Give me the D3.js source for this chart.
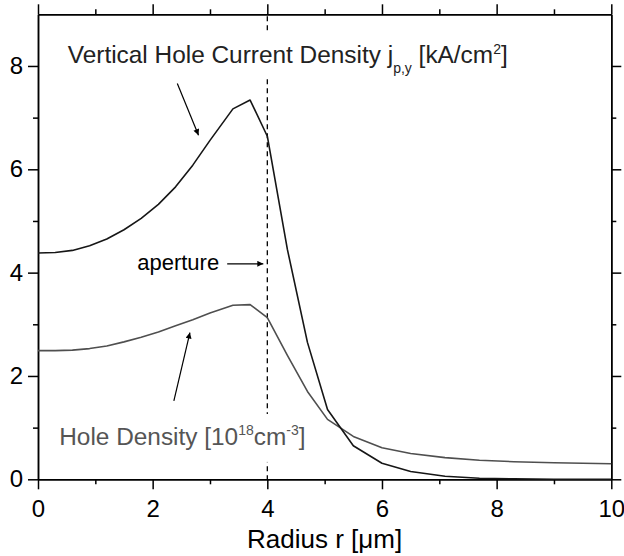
<!DOCTYPE html>
<html>
<head>
<meta charset="utf-8">
<script src="https://cdn.jsdelivr.net/npm/d3@7"></script>
<style>
  html, body { margin: 0; padding: 0; background: #fff; }
  svg { display: block; font-family: "Liberation Sans", Arial, sans-serif; }
</style>
</head>
<body>
<svg id="chart" width="624" height="556"></svg>
<script>
// Radial profiles across the device (r in µm)
const radius = [0, 0.3, 0.6, 0.9, 1.2, 1.5, 1.8, 2.1, 2.4, 2.7, 3.0, 3.4, 3.7, 4.0,
                4.35, 4.7, 5.05, 5.5, 6.0, 6.5, 7.1, 7.7, 8.3, 9.0, 10];
// vertical hole current density j_p,y [kA/cm²]
const currentDensity = [4.38, 4.39, 4.43, 4.52, 4.65, 4.83, 5.05, 5.32, 5.66, 6.08, 6.56, 7.17, 7.34, 6.64,
                        4.45, 2.65, 1.35, 0.65, 0.31, 0.15, 0.06, 0.02, 0.01, 0.0, 0.0];
// hole density [10^18 cm^-3]
const holeDensity = [2.49, 2.49, 2.50, 2.53, 2.58, 2.66, 2.75, 2.85, 2.97, 3.09, 3.22, 3.37, 3.38, 3.13,
                     2.40, 1.70, 1.16, 0.83, 0.61, 0.50, 0.42, 0.37, 0.34, 0.32, 0.30];

const xMajorTicks = [0, 2, 4, 6, 8, 10];
const xMinorTicks = [1, 3, 5, 7, 9];
const yMajorTicks = [0, 2, 4, 6, 8];
const yMinorTicks = [1, 3, 5, 7];
const apertureRadius = 4;

const svg = d3.select("#chart");
const x = d3.scaleLinear().domain([0, 10]).range([38, 611.3]);
const y = d3.scaleLinear().domain([0, 9]).range([479.3, 14.3]);

const axisStroke = 1.5;

// ---- frame with outward ticks on all four sides ----
function styleAxis(g) {
  g.selectAll("path.domain").attr("stroke", "#000").attr("stroke-width", axisStroke);
  g.selectAll(".tick line").attr("stroke", "#000").attr("stroke-width", axisStroke);
  g.selectAll(".tick text").attr("fill", "#000").style("font-size", "24px")
    .style("font-family", "'Liberation Sans', Arial, sans-serif");
}

// bottom
svg.append("g").attr("transform", `translate(0,${y(0)})`)
  .call(d3.axisBottom(x).tickValues(xMajorTicks).tickSize(10).tickSizeOuter(0).tickPadding(11)
        .tickFormat(d3.format("d")))
  .call(styleAxis);
svg.append("g").attr("transform", `translate(0,${y(0)})`)
  .call(d3.axisBottom(x).tickValues(xMinorTicks).tickSize(5).tickSizeOuter(0).tickFormat(""))
  .call(styleAxis);
// top
svg.append("g").attr("transform", `translate(0,${y(9)})`)
  .call(d3.axisTop(x).tickValues(xMajorTicks).tickSize(10).tickSizeOuter(0).tickFormat(""))
  .call(styleAxis);
svg.append("g").attr("transform", `translate(0,${y(9)})`)
  .call(d3.axisTop(x).tickValues(xMinorTicks).tickSize(5).tickSizeOuter(0).tickFormat(""))
  .call(styleAxis);
// left
svg.append("g").attr("transform", `translate(${x(0)},0)`)
  .call(d3.axisLeft(y).tickValues(yMajorTicks).tickSize(10).tickSizeOuter(0).tickPadding(5)
        .tickFormat(d3.format("d")))
  .call(styleAxis);
svg.append("g").attr("transform", `translate(${x(0)},0)`)
  .call(d3.axisLeft(y).tickValues(yMinorTicks).tickSize(5).tickSizeOuter(0).tickFormat(""))
  .call(styleAxis);
// right
svg.append("g").attr("transform", `translate(${x(10)},0)`)
  .call(d3.axisRight(y).tickValues(yMajorTicks).tickSize(10).tickSizeOuter(0).tickFormat(""))
  .call(styleAxis);
svg.append("g").attr("transform", `translate(${x(10)},0)`)
  .call(d3.axisRight(y).tickValues(yMinorTicks).tickSize(5).tickSizeOuter(0).tickFormat(""))
  .call(styleAxis);

// ---- aperture edge ----
svg.append("line")
  .attr("x1", x(apertureRadius)).attr("x2", x(apertureRadius))
  .attr("y1", y(9)).attr("y2", y(0))
  .attr("stroke", "#000").attr("stroke-width", 1.3)
  .attr("stroke-dasharray", "5,4").attr("stroke-dashoffset", -2);

// ---- curves ----
const pts = (vals) => radius.map((r, i) => [r, vals[i]]);
const line = d3.line().x(d => x(d[0])).y(d => y(d[1]));

svg.append("path").datum(pts(holeDensity))
  .attr("d", line).attr("fill", "none")
  .attr("stroke", "#4f4f4f").attr("stroke-width", 1.6).attr("stroke-linejoin", "round");
svg.append("path").datum(pts(currentDensity))
  .attr("d", line).attr("fill", "none")
  .attr("stroke", "#161616").attr("stroke-width", 1.6).attr("stroke-linejoin", "round");

// ---- labels (on a white backing so the dashed line stops at the text) ----
function backedLabel(parts, r, v, color, padTop, padBottom) {
  const g = svg.append("g");
  const t = g.append("text")
    .attr("x", x(r)).attr("y", y(v))
    .attr("fill", color).style("font-size", "24.4px");
  parts.forEach(p => {
    const s = t.append("tspan").text(p.text);
    if (p.size) s.style("font-size", p.size + "px");
    if (p.dy) s.attr("dy", p.dy);
  });
  const bb = t.node().getBBox();
  g.insert("rect", "text")
    .attr("x", bb.x - 2).attr("y", bb.y - padTop)
    .attr("width", bb.width + 4).attr("height", bb.height + padTop + padBottom)
    .attr("fill", "#fff");
  return t;
}

backedLabel([
  { text: "Vertical Hole Current Density j" },
  { text: "p,y", size: 14, dy: 10 },
  { text: " [kA/cm", dy: -10 },
  { text: "2", size: 14, dy: -9 },
  { text: "]", dy: 9 }
], 0.52, 8.06, "#222", 10, 2);

backedLabel([
  { text: "Hole Density [10" },
  { text: "18", size: 14, dy: -10 },
  { text: "cm", dy: 10 },
  { text: "-3", size: 14, dy: -10 },
  { text: "]", dy: 10 }
], 0.37, 0.665, "#555", 8, 12);

svg.append("text")
  .attr("x", x(1.73)).attr("y", y(4.06))
  .attr("fill", "#000").style("font-size", "22px")
  .text("aperture");

// ---- pointer arrows ----
svg.append("defs").append("marker")
  .attr("id", "head").attr("viewBox", "0 0 10 10")
  .attr("refX", 10).attr("refY", 5)
  .attr("markerWidth", 9).attr("markerHeight", 6)
  .attr("markerUnits", "userSpaceOnUse").attr("orient", "auto")
  .append("path").attr("d", "M0,0 L10,5 L0,10 Z").attr("fill", "#000");

const arrows = [
  { from: [2.43, 7.66], to: [2.80, 6.66] },
  { from: [2.37, 1.52], to: [2.65, 2.84] },
  { from: [3.30, 4.17], to: [3.93, 4.17] }
];
svg.selectAll("line.pointer").data(arrows).join("line")
  .attr("class", "pointer")
  .attr("x1", d => x(d.from[0])).attr("y1", d => y(d.from[1]))
  .attr("x2", d => x(d.to[0])).attr("y2", d => y(d.to[1]))
  .attr("stroke", "#000").attr("stroke-width", 1.2)
  .attr("marker-end", "url(#head)");

// ---- axis title ----
svg.append("text")
  .attr("x", (x(0) + x(10)) / 2).attr("y", 548)
  .attr("text-anchor", "middle").attr("fill", "#000")
  .style("font-size", "26px")
  .text("Radius r [μm]");
</script>
</body>
</html>
